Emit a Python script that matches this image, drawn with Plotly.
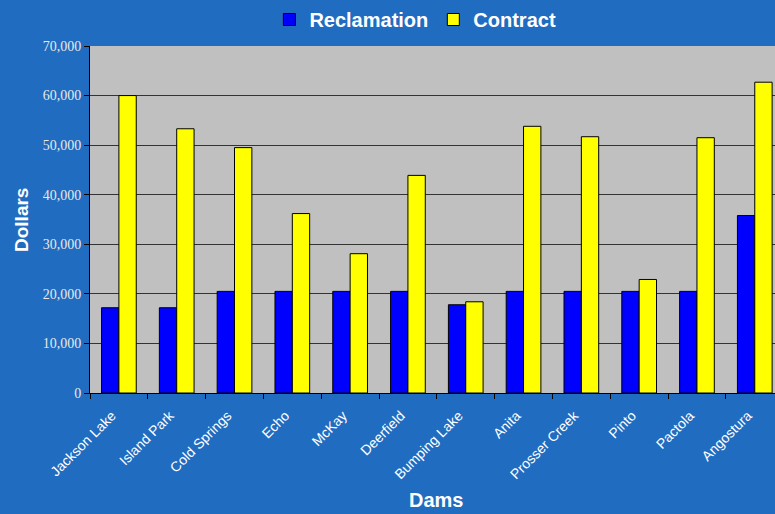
import plotly.graph_objects as go

dams = ["Jackson Lake", "Island Park", "Cold Springs", "Echo", "McKay", "Deerfield",
        "Bumping Lake", "Anita", "Prosser Creek", "Pinto", "Pactola", "Angostura"]
reclamation = [17200, 17200, 20500, 20500, 20500, 20500, 17800, 20500, 20500, 20500, 20500, 35800]
contract = [60000, 53300, 49500, 36200, 28100, 43900, 18400, 53800, 51700, 22900, 51500, 62700]

BG = "#206CC0"

fig = go.Figure()
fig.add_trace(go.Bar(name="Reclamation", x=dams, y=reclamation,
                     marker=dict(color="#0000FF", line=dict(color="black", width=1))))
fig.add_trace(go.Bar(name="Contract", x=dams, y=contract,
                     marker=dict(color="#FFFF00", line=dict(color="black", width=1))))

fig.update_layout(
    width=775, height=514,
    margin=dict(l=90, r=0, t=46, b=121),
    paper_bgcolor=BG, plot_bgcolor="#C0C0C0",
    barmode="group", bargap=0.4, bargroupgap=0,
    showlegend=True,
    legend=dict(orientation="h", x=0.475, xanchor="center", yref="container", y=1.0, yanchor="top",
                font=dict(family="Liberation Sans, Arial", size=20, color="white", weight="bold"),
                bgcolor="rgba(0,0,0,0)", itemwidth=30, traceorder="normal"),
    font=dict(family="Liberation Sans, Arial", color="white"),
)
fig.update_xaxes(type="category", range=[-0.5, 11.35], tickangle=-45,
                 tickfont=dict(family="Liberation Sans, Arial", size=14, color="white"),
                 showline=True, linecolor="black", linewidth=1,
                 ticks="outside", ticklen=5, tickcolor="black", tickson="boundaries",
                 ticklabelstandoff=8, ticklabelshift=-7,
                 showgrid=False)
fig.update_yaxes(range=[0, 70000], dtick=10000, tickformat=",d",
                 tickfont=dict(family="Liberation Serif, Times New Roman", size=14, color="#E8E8E8"),
                 showline=True, linecolor="black", linewidth=1,
                 ticks="outside", ticklen=5, tickcolor="black",
                 showgrid=True, gridcolor="#333333", gridwidth=1, zeroline=False)

fig.add_annotation(text="<b>Dollars</b>", xref="paper", yref="paper",
                   x=(21 - 90) / 685, y=(393 - 220) / 347, textangle=-90, showarrow=False,
                   font=dict(family="Liberation Sans, Arial", size=19, color="white"),
                   xanchor="center", yanchor="middle")
fig.add_annotation(text="<b>Dams</b>", xref="paper", yref="paper",
                   x=(436.5 - 90) / 685, y=-(500 - 393) / 347, showarrow=False,
                   font=dict(family="Liberation Sans, Arial", size=20, color="white"),
                   xanchor="center", yanchor="middle")

fig.write_html("out.html", config={"displayModeBar": False},
               post_script="document.body.style.margin='0';document.body.style.overflow='hidden';")
